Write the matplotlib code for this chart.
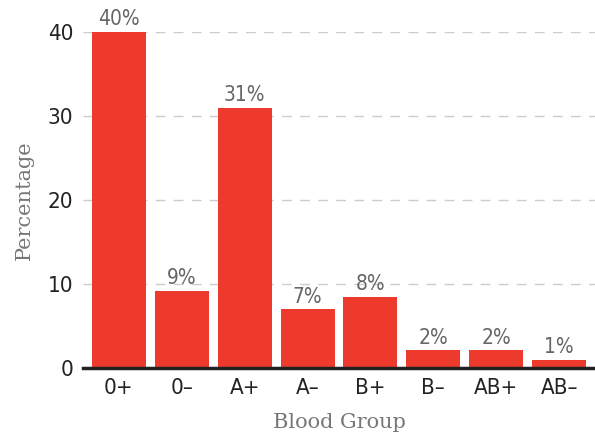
import matplotlib
matplotlib.use("Agg")
import matplotlib.pyplot as plt

groups = ["0+", "0\u2013", "A+", "A\u2013", "B+", "B\u2013", "AB+", "AB\u2013"]
percent = [40, 9.2, 31, 7, 8.5, 2.1, 2.1, 1]
labels = ["40%", "9%", "31%", "7%", "8%", "2%", "2%", "1%"]
yticks = [0, 10, 20, 30, 40]

bar_color = "#ee3a2c"
tick_font = ["DejaVu Sans"]
label_font = ["DejaVu Serif"]

fig = plt.figure(figsize=(5.95, 4.34), dpi=100)
ax = fig.add_axes([83 / 595, 66 / 434, 512 / 595, 336 / 434])

x = range(len(groups))
ax.bar(x, percent, width=0.86, color=bar_color, zorder=2)

for xi, v, lab in zip(x, percent, labels):
    ax.text(xi, v + 0.3, lab, ha="center", va="bottom", fontsize=15,
            color="#666666", family=tick_font, stretch="condensed", clip_on=False)

ax.set_xlim(-0.57, len(groups) - 0.43)
ax.set_ylim(0, 40)
ax.set_yticks(yticks)
ax.set_xticks(list(x))
ax.set_xticklabels(groups)
for t in ax.get_xticklabels() + ax.get_yticklabels():
    t.set_family(tick_font)
    t.set_stretch("condensed")
    t.set_fontsize(16)
    t.set_color("#222222")

ax.yaxis.grid(True, linestyle=(0, (7, 6)), color="#cccccc", linewidth=1, zorder=0)
ax.set_axisbelow(True)
ax.tick_params(length=0, pad=7)
for s in ["top", "right", "left"]:
    ax.spines[s].set_visible(False)
ax.spines["bottom"].set_color("#222222")
ax.spines["bottom"].set_linewidth(2.5)
ax.spines["bottom"].set_zorder(3)

ax.set_xlabel("Blood Group", fontsize=15, color="#777777", family=label_font, labelpad=11)
ax.set_ylabel("Percentage", fontsize=15, color="#777777", family=label_font, labelpad=10)

fig.savefig("out.png", dpi=100)
